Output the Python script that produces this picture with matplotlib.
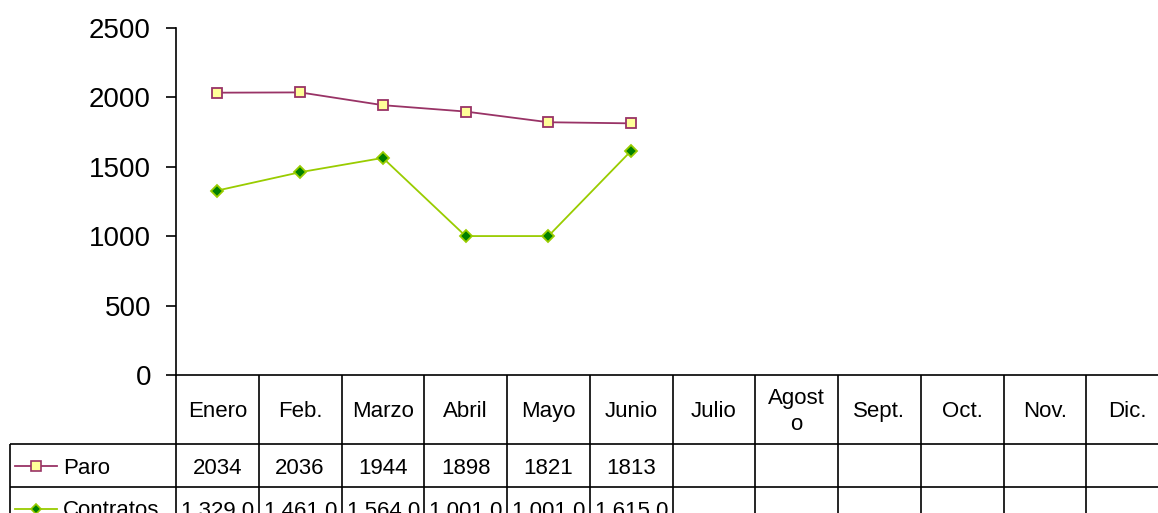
import matplotlib.pyplot as plt
import numpy as np

plt.rcParams['font.family'] = ['Liberation Sans', 'DejaVu Sans']

# Data
months = ['Enero', 'Feb.', 'Marzo', 'Abril', 'Mayo', 'Junio', 'Julio',
          'Agost\no', 'Sept.', 'Oct.', 'Nov.', 'Dic.']
paro = [2034, 2036, 1944, 1898, 1821, 1813]
contratos = [1329.0, 1461.0, 1564.0, 1001.0, 1001.0, 1615.0]
paro_labels = ['2034', '2036', '1944', '1898', '1821', '1813']
contratos_labels = ['1.329,0', '1.461,0', '1.564,0', '1.001,0', '1.001,0', '1.615,0']
series_names = ['Paro', 'Contratos']

paro_color = '#993366'
paro_face = '#FFFF99'
contr_color = '#99CC00'
contr_face = '#008000'

W, H = 1158, 513
fig = plt.figure(figsize=(W / 100, H / 100), dpi=100)

# axes geometry in pixels
ax_left, ax_top, ax_bottom = 176, 28, 375
col_w = 82.75
ax_w = col_w * len(months)
ax_h = ax_bottom - ax_top
ax = fig.add_axes([ax_left / W, 1 - ax_bottom / H, ax_w / W, ax_h / H])

x = np.arange(len(paro))
ax.plot(x, paro, color=paro_color, lw=1.3, marker='s', ms=7.5,
        mfc=paro_face, mec=paro_color, mew=1.3, clip_on=False)
ax.plot(x, contratos, color=contr_color, lw=1.3, marker='D', ms=6,
        mfc=contr_face, mec=contr_color, mew=1.3, clip_on=False)

ax.set_xlim(-0.5, len(months) - 0.5)
ax.set_ylim(0, 2500)
ax.set_yticks(range(0, 2501, 500))
ax.set_xticks([])
ax.spines['top'].set_visible(False)
ax.spines['right'].set_visible(False)
ax.spines['left'].set_linewidth(1.2)
ax.spines['bottom'].set_linewidth(1.2)
ax.tick_params(axis='y', direction='out', length=7, width=1.2, pad=11, labelsize=20)


# --- data table drawn under the axis (pixel layout -> axes fraction) ---
def fx(px):
    return (px - ax_left) / ax_w


def fy(py):
    return -(py - ax_bottom) / ax_h


label_left = 10
head_h, row_h = 69, 43
tbl_fs = 16
row_tops = [ax_bottom + head_h + row_h * i for i in range(3)]
grid_kw = dict(colors='black', lw=1.2, transform=ax.transAxes, clip_on=False)

# vertical lines between month columns
for k in range(len(months) + 1):
    xk = fx(ax_left + k * col_w)
    ax.vlines(xk, fy(row_tops[-1]), 0, **grid_kw)
# left edge of the row-label column
ax.vlines(fx(label_left), fy(row_tops[-1]), fy(row_tops[0]), **grid_kw)
# horizontal row lines
for yt in row_tops:
    ax.hlines(fy(yt), fx(label_left), 1, **grid_kw)

# month headers
for j, m in enumerate(months):
    ax.text(fx(ax_left + (j + 0.5) * col_w), fy(ax_bottom + head_h / 2 + 2), m,
            transform=ax.transAxes, ha='center', va='center', fontsize=tbl_fs,
            linespacing=1.3)

# values
for i, vals in enumerate([paro_labels, contratos_labels]):
    yc = fy(row_tops[0] + row_h * (i + 0.5))
    for j, v in enumerate(vals):
        ax.text(fx(ax_left + (j + 0.5) * col_w), yc, v, transform=ax.transAxes,
                ha='center', va='center_baseline', fontsize=tbl_fs)

# legend keys + names in the row label cells
styles = [(paro_color, 's', 6.5, paro_face), (contr_color, 'D', 5, contr_face)]
for i, (name, (lc, mk, ms, fc)) in enumerate(zip(series_names, styles)):
    yc = fy(row_tops[0] + row_h * (i + 0.5))
    x0, x1 = fx(15), fx(57)
    ax.plot([x0, x1], [yc, yc], color=lc, lw=1.3, transform=ax.transAxes, clip_on=False)
    ax.plot([(x0 + x1) / 2], [yc], marker=mk, ms=ms, mfc=fc, mec=lc, mew=1.2,
            transform=ax.transAxes, clip_on=False)
    ax.text(fx(63), yc, name, transform=ax.transAxes,
            ha='left', va='center_baseline', fontsize=tbl_fs)

fig.savefig('out.png', dpi=100)
